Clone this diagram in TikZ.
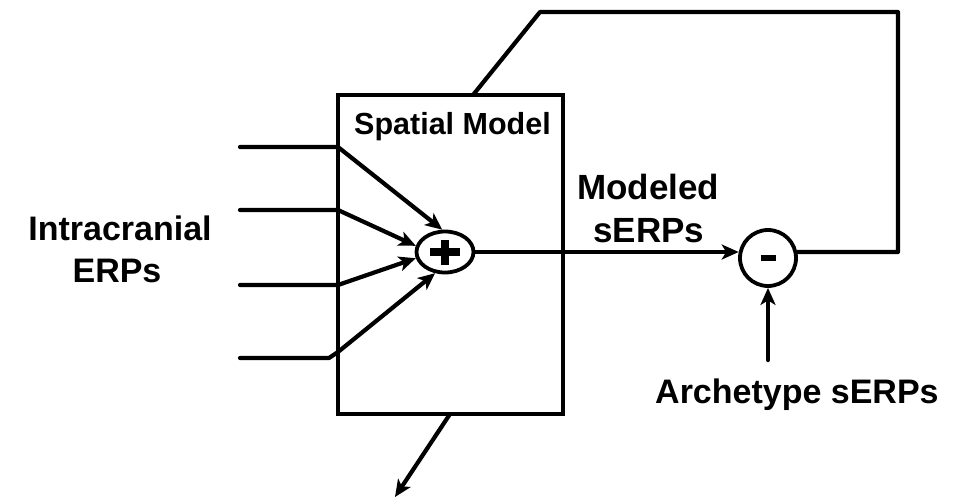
\documentclass[tikz,border=0pt]{standalone}
\usepackage{fontspec}
\setmainfont{Liberation Sans}
\usetikzlibrary{arrows.meta,shapes.geometric}

\tikzset{
  wire/.style={line width=4.2pt, line join=round, line cap=round},
  arrowwire/.style={wire, -{Stealth[length=17pt,width=15pt,inset=4.5pt]}},
  bigtext/.style={inner sep=0pt, font=\fontsize{34}{40}\selectfont\bfseries},
  boxtext/.style={inner sep=0pt, font=\fontsize{30.5}{36}\selectfont\bfseries},
  junction/.style={draw, line width=3.8pt, inner sep=0pt},
  signbar/.style={line width=8pt, line cap=butt}
}

\begin{document}
\begin{tikzpicture}[x=1pt, y=-1pt]
  \useasboundingbox (0,0) rectangle (971,499);

  % spatial model block
  \node[draw, line width=3.6pt, minimum width=225pt, minimum height=319pt,
        inner sep=0pt] (box) at (450.5,254.5) {};
  \node[boxtext, anchor=base west] (boxlabel) at (354,134) {Spatial Model};

  % summing junction with a heavy plus sign
  \node[junction, ellipse, minimum width=57pt, minimum height=41pt] (plus) at (445,252) {};
  \draw[signbar] ([xshift=-15pt]plus.center) -- ([xshift=15pt]plus.center);
  \draw[signbar] ([yshift=-12.5pt]plus.center) -- ([yshift=12.5pt]plus.center);

  % differencing junction with a short minus bar
  \node[junction, circle, minimum size=56pt] (minus) at (768,258) {};
  \draw[line width=6pt] ([xshift=-7.5pt]minus.center) -- ([xshift=7.5pt]minus.center);

  % input channels
  \coordinate (in1) at (240,147);
  \coordinate (in2) at (240,210);
  \coordinate (in3) at (240,285);
  \coordinate (in4) at (240,358);
  \coordinate (b1) at (338,147);
  \coordinate (b2) at (338,210);
  \coordinate (b3) at (338,285);
  \coordinate (b4) at (329,358);
  \coordinate (b4e) at (338,352);

  \draw[arrowwire] (in1) -- (b1) -- (plus.97);
  \draw[arrowwire] (in2) -- (b2) -- (plus.168);
  \draw[arrowwire] (in3) -- (b3) -- (plus.192);
  \draw[arrowwire] (in4) -- (b4) -- (b4e) -- (plus.245);

  % modeled output to the differencing junction
  \coordinate (mout) at (plus.east -| minus.west);
  \draw[arrowwire] (plus.east) -- ([xshift=0.6pt]mout);

  % archetype input
  \coordinate (arch) at (768,360);
  \draw[arrowwire] (arch) -- (minus.south);

  % feedback path back into the spatial model
  \coordinate (f0) at (plus.east -| minus.east);
  \coordinate (f1) at (898,252);
  \coordinate (f2) at (898,12);
  \coordinate (f3) at (540,12);
  \coordinate (f4) at (473,95);
  \draw[wire] ([xshift=-0.6pt]f0) -- (f1) -- (f2) -- (f3) -- (f4);

  % output leaving the block
  \coordinate (o1) at (450,414);
  \coordinate (o2) at (395,497);
  \draw[arrowwire] (o1) -- (o2);

  % labels
  \node[bigtext, anchor=base] (lab1) at (120,240) {Intracranial};
  \node[bigtext, anchor=base] (lab2) at (117,282) {ERPs};
  \node[bigtext, anchor=base west, font=\fontsize{35}{40}\selectfont\bfseries]
        (lab3) at (577,199) {Modeled};
  \node[bigtext, anchor=base west, font=\fontsize{35}{40}\selectfont\bfseries]
        (lab4) at (593,242) {sERPs};
  \node[bigtext, anchor=base west] (lab5) at (655,403) {Archetype sERPs};
\end{tikzpicture}
\end{document}
